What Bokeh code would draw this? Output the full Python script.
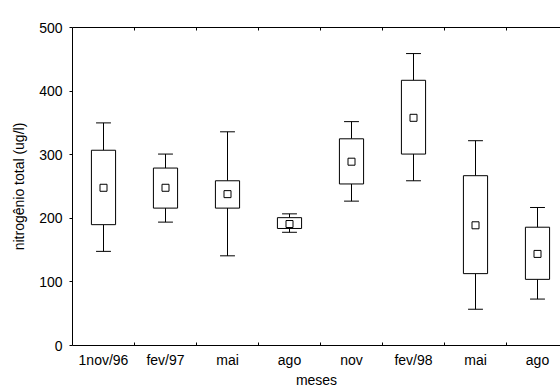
from bokeh.plotting import figure
from bokeh.models import LinearAxis, FixedTicker, Range1d, ColumnDataSource
from bokeh.embed import file_html
from bokeh.resources import INLINE

categories = ["1nov/96", "fev/97", "mai", "ago", "nov", "fev/98", "mai", "ago"]
means = [248, 248, 238, 191, 289, 358, 189, 144]
box_low = [190, 216, 216, 184, 254, 301, 113, 104]
box_high = [307, 279, 259, 201, 325, 417, 267, 186]
whisk_low = [148, 194, 141, 178, 227, 259, 57, 73]
whisk_high = [350, 301, 336, 207, 352, 459, 322, 217]
y_ticks = [0, 100, 200, 300, 400, 500]

FONT = "Liberation Sans"
FS = "14px"
n = len(categories)
xs = [i + 0.5 for i in range(n)]
box_w = 0.39
cap_w = 0.24

src = ColumnDataSource(dict(
    x=xs, mean=means, bl=box_low, bh=box_high, wl=whisk_low, wh=whisk_high,
    cl=[x - cap_w / 2 for x in xs], cr=[x + cap_w / 2 for x in xs],
))

p = figure(width=560, height=391, output_backend="svg", toolbar_location=None,
           x_range=Range1d(0, 488 / 62), y_range=Range1d(0, 500),
           x_axis_location=None, y_axis_location=None,
           min_border_left=72, min_border_right=0, min_border_top=27, min_border_bottom=46)
p.xgrid.visible = False
p.ygrid.visible = False
p.outline_line_color = None
p.background_fill_color = "white"
p.border_fill_color = "white"

# whiskers
p.segment(x0="x", y0="bh", x1="x", y1="wh", source=src, line_color="black", line_width=1)
p.segment(x0="x", y0="bl", x1="x", y1="wl", source=src, line_color="black", line_width=1)
p.segment(x0="cl", y0="wh", x1="cr", y1="wh", source=src, line_color="black", line_width=1)
p.segment(x0="cl", y0="wl", x1="cr", y1="wl", source=src, line_color="black", line_width=1)
# boxes
p.vbar(x="x", width=box_w, bottom="bl", top="bh", source=src,
       fill_color="white", line_color="black", line_width=1)
# means
p.scatter(x="x", y="mean", source=src, marker="square", size=7,
          fill_color="white", line_color="black", line_width=1)

# left axis
ya = LinearAxis(ticker=FixedTicker(ticks=y_ticks, minor_ticks=[]))
ya.axis_label = "nitrogênio total (ug/l)"
ya.axis_label_text_font = FONT
ya.axis_label_text_font_size = FS
ya.axis_label_text_font_style = "normal"
ya.axis_label_text_color = "black"
ya.axis_label_standoff = 9
ya.major_label_text_font = FONT
ya.major_label_text_font_size = FS
ya.major_label_text_color = "black"
ya.major_tick_out = 3
ya.major_tick_in = 0
ya.major_label_standoff = 7
ya.minor_tick_out = 0
ya.axis_line_color = "black"
ya.major_tick_line_color = "black"
p.add_layout(ya, "left")

# bottom axis
xa = LinearAxis(ticker=FixedTicker(ticks=xs, minor_ticks=list(range(1, n))))
xa.major_label_overrides = {x: c for x, c in zip(xs, categories)}
xa.axis_label = "meses"
xa.axis_label_text_font = FONT
xa.axis_label_text_font_size = FS
xa.axis_label_text_font_style = "normal"
xa.axis_label_text_color = "black"
xa.axis_label_standoff = 1
xa.major_label_text_font = FONT
xa.major_label_text_font_size = FS
xa.major_label_text_color = "black"
xa.major_tick_out = 0
xa.major_tick_in = 0
xa.minor_tick_in = 3
xa.minor_tick_out = 0
xa.minor_tick_line_color = "black"
xa.major_label_standoff = 6
xa.axis_line_color = "black"
p.add_layout(xa, "below")

# top axis (line with tick marks only)
ta = LinearAxis(ticker=FixedTicker(ticks=[], minor_ticks=list(range(1, n))))
ta.major_label_text_font_size = "0px"
ta.minor_tick_in = 3
ta.minor_tick_out = 0
ta.minor_tick_line_color = "black"
ta.axis_line_color = "black"
p.add_layout(ta, "above")

open("out.html", "w").write(file_html(p, INLINE))
